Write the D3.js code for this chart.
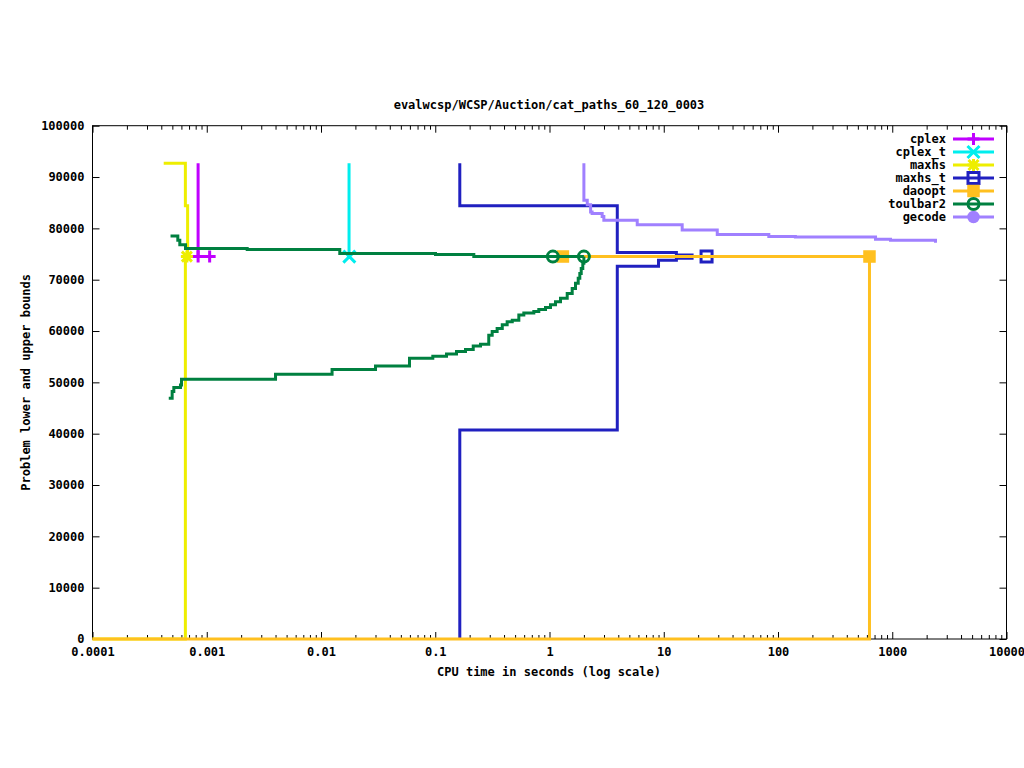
<!DOCTYPE html>
<html>
<head>
<meta charset="utf-8">
<script src="https://cdn.jsdelivr.net/npm/d3@7"></script>
<style>
    body { margin: 0; background: #fff; }
    text { font-family: "DejaVu Sans Mono", monospace; font-size: 12px; font-weight: bold; }
</style>
</head>
<body>
<div id="chart-area"></div>
<script>

// values: [cpu seconds, bound]
const solvers = ["cplex", "cplex_t", "maxhs", "maxhs_t", "daoopt", "toulbar2", "gecode"];
const solverColors = ["#c000ff", "#00eeee", "#eeee00", "#2020c0", "#ffc020", "#008040", "#a080ff"];
const solverPoints = ["plus", "times", "star", "square", "squareFilled", "circle", "circleFilled"];

const cplexUpper = [[0.00084, 92700], [0.00084, 74500], [0.00106, 74500]];
const cplexMarks = [[0.00084, 74500], [0.00106, 74500]];

const cplexTUpper = [[0.0176, 92700], [0.0176, 74500], [0.0177, 74500]];
const cplexTMarks = [[0.0177, 74500]];

const maxhsUpper = [[0.00042, 92700], [0.00065, 84400], [0.00068, 74500], [0.00069, 74500]];
const maxhsLower = [[0.0001, 0], [0.00065, 74500], [0.00068, 74500]];
const maxhsMarks = [[0.00067, 74500]];

const maxhsTUpper = [[0.164, 92700], [0.164, 84400], [3.92, 75300], [12.9, 74800], [17.7, 74500], [23.7, 74500]];
const maxhsTLower = [[0.164, 0], [0.164, 40700], [3.92, 72600], [9.0, 73800], [12.9, 74200], [17.7, 74500], [23.7, 74500]];
const maxhsTMarks = [[23.7, 74500]];

const daooptUpper = [[1.31, 74500], [632, 74500]];
const daooptLower = [[0.0001, 0], [632, 0], [632, 74500]];
const daooptMarks = [[1.31, 74500], [632, 74500]];

const toulbar2Upper = [[0.000482, 78500], [0.000558, 77700], [0.000581, 76800], [0.000652, 76100],
    [0.00226, 75900], [0.0146, 75100], [0.1005, 74900], [0.2175, 74500], [2.0, 74500]];
const toulbar2Lower = [[0.000465, 46900], [0.000498, 48200], [0.000515, 49000], [0.000589, 49500],
    [0.000601, 50600], [0.0040, 51600], [0.0125, 52500], [0.030, 53200], [0.0595, 54700],
    [0.0952, 55100], [0.1255, 55500], [0.1535, 56000], [0.184, 56400], [0.215, 57100],
    [0.249, 57400], [0.294, 59200], [0.315, 59900], [0.348, 60500], [0.386, 61200],
    [0.426, 61800], [0.472, 62100], [0.539, 63100], [0.596, 63500], [0.729, 63800],
    [0.806, 64200], [0.923, 64600], [1.02, 65100], [1.128, 65700], [1.248, 66400],
    [1.429, 67300], [1.58, 68300], [1.689, 69300], [1.784, 70300], [1.842, 71200],
    [1.895, 72200], [1.956, 73200], [2.0, 74500]];
const toulbar2Marks = [[1.07, 74500], [2.0, 74500]];

const gecodeUpper = [[2.0, 92700], [2.0, 85500], [2.14, 84600], [2.29, 83200], [2.36, 82900],
    [2.89, 82300], [2.99, 81600], [5.86, 80700], [14.5, 79700], [29.4, 78800], [83.1, 78400],
    [142, 78300], [714, 77900], [965, 77700], [2390, 77200]];

const xTickValues = [0.0001, 0.001, 0.01, 0.1, 1, 10, 100, 1000, 10000];
const xTickLabels = ["0.0001", "0.001", "0.01", "0.1", "1", "10", "100", "1000", "10000"];
const yTickValues = [0, 10000, 20000, 30000, 40000, 50000, 60000, 70000, 80000, 90000, 100000];

const plotTitle = "evalwcsp/WCSP/Auction/cat_paths_60_120_0003";
const xTitle = "CPU time in seconds (log scale)";
const yTitle = "Problem lower and upper bounds";

class BoundsPlot {

    constructor(parentElement) {
        this.parentElement = parentElement;
        this.series = [
            {lines: [cplexUpper], marks: cplexMarks},
            {lines: [cplexTUpper], marks: cplexTMarks},
            {lines: [maxhsUpper, maxhsLower], marks: maxhsMarks},
            {lines: [maxhsTUpper, maxhsTLower], marks: maxhsTMarks},
            {lines: [daooptUpper, daooptLower], marks: daooptMarks},
            {lines: [toulbar2Upper, toulbar2Lower], marks: toulbar2Marks},
            {lines: [gecodeUpper], marks: []}
        ];
        this.initVis();
    }

    initVis() {
        let vis = this;
        vis.margin = {top: 125.7, right: 17.5, bottom: 129, left: 92.5};
        vis.width = 1024 - vis.margin.left - vis.margin.right;
        vis.height = 768 - vis.margin.top - vis.margin.bottom;

        vis.root = d3.select("#" + vis.parentElement).append("svg")
            .attr("width", 1024)
            .attr("height", 768)
            .style("display", "block");

        vis.svg = vis.root.append("g")
            .attr("transform", `translate(${vis.margin.left}, ${vis.margin.top})`);

        vis.xScale = d3.scaleLog().domain([0.0001, 10000]).range([0, vis.width]);
        vis.yScale = d3.scaleLinear().domain([0, 100000]).range([vis.height, 0]);

        vis.updateVis();
    }

    pointPath(type) {
        switch (type) {
            case "plus": return "M-6,0H6M0,-6V6";
            case "times": return "M-6,-6L6,6M-6,6L6,-6";
            case "star": return "M-6,0H6M0,-6V6M-5,-5L5,5M-5,5L5,-5";
            case "square": case "squareFilled": return "M-5.5,-5.5H5.5V5.5H-5.5Z";
            default: return "M-5.5,0A5.5,5.5 0 1,0 5.5,0A5.5,5.5 0 1,0 -5.5,0Z";
        }
    }

    updateVis() {
        let vis = this;

        let minorTicks = [];
        for (let e = -4; e < 4; e++) {
            for (let k = 2; k < 10; k++) minorTicks.push(k * Math.pow(10, e));
        }

        // ticks, all drawn inward and mirrored like gnuplot does
        let bottom = vis.svg.append("g").attr("transform", `translate(0, ${vis.height})`)
            .call(d3.axisBottom(vis.xScale).tickValues(xTickValues).tickSize(-7).tickPadding(8)
                .tickFormat((d, i) => xTickLabels[i]));
        vis.svg.append("g").attr("transform", `translate(0, ${vis.height})`)
            .call(d3.axisBottom(vis.xScale).tickValues(minorTicks).tickSize(-4).tickFormat(""));
        vis.svg.append("g")
            .call(d3.axisTop(vis.xScale).tickValues(xTickValues).tickSize(-7).tickFormat(""));
        vis.svg.append("g")
            .call(d3.axisTop(vis.xScale).tickValues(minorTicks).tickSize(-4).tickFormat(""));
        let left = vis.svg.append("g")
            .call(d3.axisLeft(vis.yScale).tickValues(yTickValues).tickSize(-7).tickPadding(8)
                .tickFormat(d3.format("d")));
        vis.svg.append("g").attr("transform", `translate(${vis.width}, 0)`)
            .call(d3.axisRight(vis.yScale).tickValues(yTickValues).tickSize(-7).tickFormat(""));

        vis.svg.selectAll(".domain").remove();
        vis.svg.selectAll(".tick line").attr("stroke", "#000");
        bottom.selectAll("text").attr("fill", "#000");
        left.selectAll("text").attr("fill", "#000");
        bottom.attr("font-family", null).attr("font-size", null);
        left.attr("font-family", null).attr("font-size", null);

        vis.svg.append("rect")
            .attr("width", vis.width)
            .attr("height", vis.height)
            .attr("fill", "none")
            .attr("stroke", "#000")
            .attr("stroke-width", 1);

        let line = d3.line()
            .x(d => vis.xScale(d[0]))
            .y(d => vis.yScale(d[1]))
            .curve(d3.curveStepAfter);

        vis.series.forEach((s, i) => {
            let g = vis.svg.append("g").attr("class", "series " + solvers[i]);
            g.selectAll(".bound")
                .data(s.lines)
                .enter()
                .append("path")
                .attr("class", "bound")
                .attr("d", line)
                .attr("fill", "none")
                .attr("stroke", solverColors[i])
                .attr("stroke-width", 3);
            vis.drawPoints(g, s.marks, i);
        });

        // key
        let key = vis.root.append("g").attr("class", "key");
        solvers.forEach((name, i) => {
            let y = 139 + i * 13;
            key.append("text")
                .attr("x", 946)
                .attr("y", y)
                .attr("dy", "0.35em")
                .attr("text-anchor", "end")
                .text(name);
            key.append("line")
                .attr("x1", 953).attr("x2", 994)
                .attr("y1", y).attr("y2", y)
                .attr("stroke", solverColors[i])
                .attr("stroke-width", 3);
            vis.drawPoints(key.append("g"), [[973.5, y]], i, true);
        });

        vis.root.append("text")
            .attr("x", 549)
            .attr("y", 109)
            .attr("text-anchor", "middle")
            .text(plotTitle);

        vis.root.append("text")
            .attr("x", 549)
            .attr("y", 676)
            .attr("text-anchor", "middle")
            .text(xTitle);

        vis.root.append("text")
            .attr("transform", `translate(30, ${vis.margin.top + vis.height / 2})rotate(270)`)
            .attr("text-anchor", "middle")
            .text(yTitle);
    }

    drawPoints(g, marks, i, raw) {
        let vis = this;
        let type = solverPoints[i];
        let filled = type === "squareFilled" || type === "circleFilled";
        g.selectAll(".pt")
            .data(marks)
            .enter()
            .append("path")
            .attr("class", "pt")
            .attr("transform", d => raw ? `translate(${d[0]}, ${d[1]})`
                : `translate(${vis.xScale(d[0])}, ${vis.yScale(d[1])})`)
            .attr("d", vis.pointPath(type))
            .attr("fill", filled ? solverColors[i] : "none")
            .attr("stroke", solverColors[i])
            .attr("stroke-width", filled ? 1.5 : 3);
    }
}

let plot = new BoundsPlot("chart-area");

</script>
</body>
</html>
